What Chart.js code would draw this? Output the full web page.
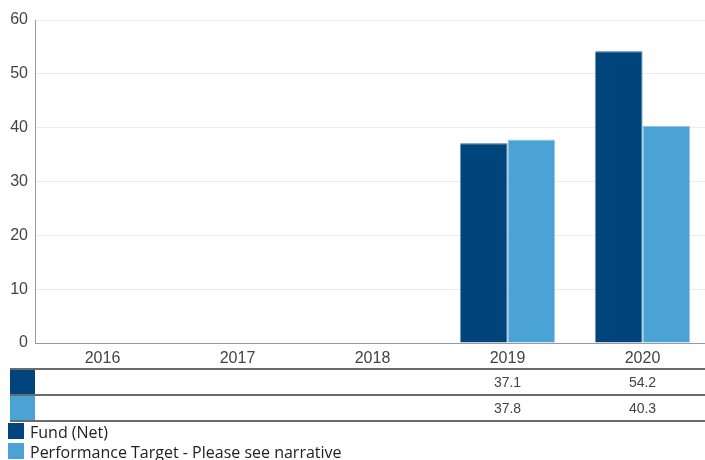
<!DOCTYPE html>
<html>
<head>
<meta charset="utf-8">
<script src="https://cdn.jsdelivr.net/npm/chart.js@4.4.0/dist/chart.umd.min.js"></script>
<style>
  html, body { margin: 0; padding: 0; background: #fff; overflow: hidden; }
  #wrap { width: 710px; height: 460px; position: relative; }
</style>
</head>
<body>
<div id="wrap"><canvas id="perfChart"></canvas></div>
<script>
const years = ['2016', '2017', '2018', '2019', '2020'];
const fundNet = [null, null, null, 37.1, 54.2];
const target = [null, null, null, 37.8, 40.3];
const yTicks = [0, 10, 20, 30, 40, 50, 60];

const seriesNames = ['Fund (Net)', 'Performance Target - Please see narrative'];
const seriesColors = ['#00447C', '#4AA3D4'];

// Data table + legend under the chart
const tablePlugin = {
    id: 'dataTable',
    afterDraw(chart) {
        const ctx = chart.ctx;
        const x = chart.scales.x;
        const rows = [fundNet, target];
        const tableTop = 369, rowH = 26, left = 10, right = chart.width;
        ctx.save();
        rows.forEach((row, i) => {
            const y0 = tableTop + i * rowH;
            ctx.fillStyle = seriesColors[i];
            ctx.fillRect(left, y0 + 1, 25, rowH - 2);
            ctx.font = '14px "Liberation Sans", Arial, sans-serif';
            ctx.fillStyle = '#444';
            ctx.textAlign = 'center';
            ctx.textBaseline = 'middle';
            row.forEach((v, j) => {
                if (v !== null) ctx.fillText(v.toFixed(1), x.getPixelForValue(j), y0 + rowH / 2 + 1);
            });
        });
        ctx.strokeStyle = '#3a3a3a';
        ctx.lineWidth = 1.5;
        for (let i = 0; i <= rows.length; i++) {
            const y = tableTop + i * rowH;
            ctx.beginPath();
            ctx.moveTo(left, y);
            ctx.lineTo(right, y);
            ctx.stroke();
        }
        // legend
        ctx.font = '16px "Open Sans", sans-serif';
        ctx.textAlign = 'left';
        ctx.textBaseline = 'middle';
        seriesNames.forEach((name, i) => {
            const y = 423 + i * 20;
            ctx.fillStyle = seriesColors[i];
            ctx.fillRect(8, y, 16, 16);
            ctx.fillStyle = '#222';
            ctx.fillText(name, 30, y + 10);
        });
        ctx.restore();
    }
};

new Chart(document.getElementById('perfChart'), {
    type: 'bar',
    data: {
        labels: years,
        datasets: [
            {
                label: seriesNames[0],
                data: fundNet,
                backgroundColor: seriesColors[0],
                borderColor: '#2A6496',
                borderWidth: { top: 1, left: 0, right: 1, bottom: 0 },
                categoryPercentage: 0.7,
                barPercentage: 1.0
            },
            {
                label: seriesNames[1],
                data: target,
                backgroundColor: seriesColors[1],
                borderColor: '#8CC8EA',
                borderWidth: { top: 1, left: 1, right: 0, bottom: 0 },
                categoryPercentage: 0.7,
                barPercentage: 1.0
            }
        ]
    },
    options: {
        responsive: true,
        maintainAspectRatio: false,
        animation: false,
        layout: { padding: { top: 20, right: 0, left: 0, bottom: 91 } },
        plugins: {
            legend: { display: false },
            tooltip: { enabled: false }
        },
        scales: {
            y: {
                min: 0,
                max: 60,
                afterBuildTicks: axis => { axis.ticks = yTicks.map(v => ({ value: v })); },
                afterFit: axis => { axis.width = 35; },
                grid: { color: '#EBEBEB', drawTicks: false },
                border: { display: true, color: '#999' },
                ticks: {
                    padding: 7,
                    color: '#444',
                    font: { size: 16, family: '"Liberation Sans", Arial, sans-serif' }
                }
            },
            x: {
                afterFit: axis => { axis.height = 26; },
                grid: { display: false, drawTicks: false },
                border: { display: true, color: '#999' },
                ticks: {
                    padding: 6,
                    color: '#444',
                    font: { size: 16, family: '"Liberation Sans", Arial, sans-serif' }
                }
            }
        }
    },
    plugins: [tablePlugin]
});
</script>
</body>
</html>
